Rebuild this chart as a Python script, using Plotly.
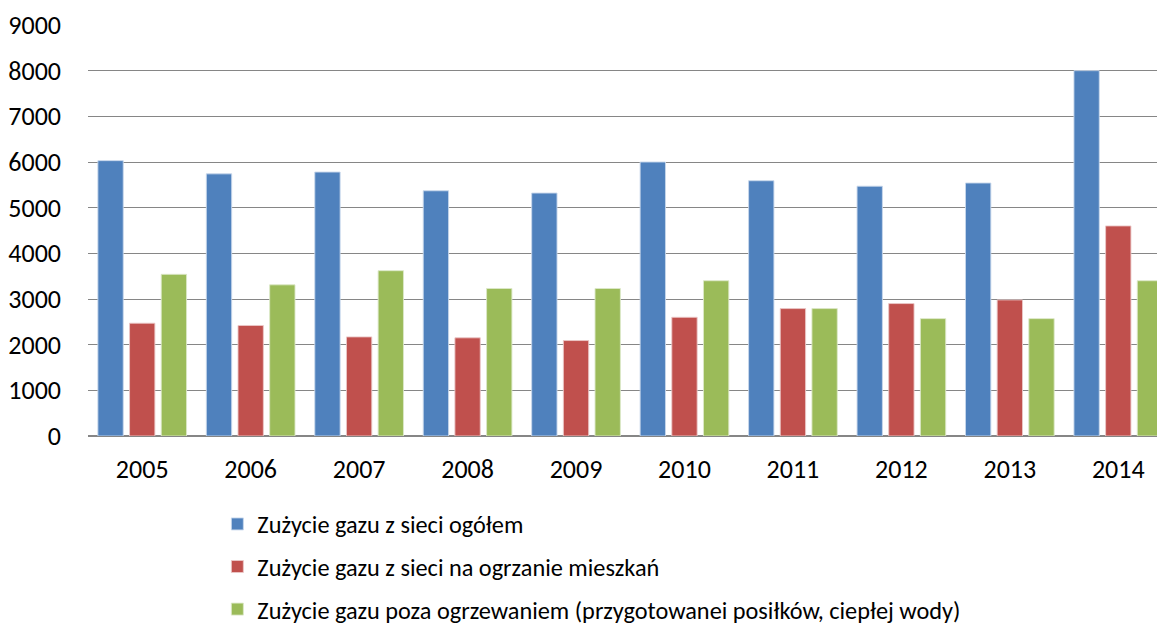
import plotly.graph_objects as go

years = ["2005", "2006", "2007", "2008", "2009", "2010", "2011", "2012", "2013", "2014"]
total = [6030, 5740, 5780, 5370, 5320, 6000, 5590, 5470, 5540, 8000]
heating = [2470, 2420, 2170, 2150, 2090, 2600, 2790, 2900, 2980, 4600]
other = [3540, 3310, 3620, 3230, 3230, 3400, 2790, 2570, 2570, 3400]

names = [
    "Zużycie gazu z sieci ogółem",
    "Zużycie gazu z sieci na ogrzanie mieszkań",
    "Zużycie gazu poza ogrzewaniem (przygotowanei posiłków, ciepłej wody)",
]
colors = ["#4F81BD", "#C0504D", "#9BBB59"]
edge = ["rgba(200,215,235,0.9)", "rgba(235,200,200,0.9)", "rgba(220,232,200,0.9)"]

FONT = "Carlito, Lato, 'Open Sans', sans-serif"

fig = go.Figure()
for i, vals in enumerate([total, heating, other]):
    fig.add_trace(go.Bar(
        x=years, y=vals, name=names[i], legendgroup=f"g{i}",
        marker=dict(color=colors[i], line=dict(color=edge[i], width=1)),
    ))

fig.update_layout(
    width=1157, height=628,
    margin=dict(l=88, r=0, t=25, b=192, pad=0, autoexpand=False),
    paper_bgcolor="white", plot_bgcolor="white",
    barmode="group", bargap=0.124, bargroupgap=0.2,
    font=dict(family=FONT, size=26, color="#000000"),
    showlegend=True,
    legend=dict(
        orientation="v", x=0.121, xanchor="left", y=-0.1597, yanchor="top",
        font=dict(family=FONT, size=24.3, color="#000000"),
        tracegroupgap=8, itemwidth=30,
        bgcolor="rgba(0,0,0,0)",
    ),
)
fig.update_xaxes(
    type="category", range=[-0.5, 9.357],
    showgrid=False, showline=False,
    ticks="", ticklabelstandoff=15, tickfont=dict(size=26),
)
fig.update_yaxes(
    range=[0, 9000], dtick=1000, tick0=0,
    showgrid=True, gridcolor="#868686", gridwidth=1.3,
    zeroline=True, zerolinecolor="#868686", zerolinewidth=1.8,
    showline=False, ticks="", ticklabelstandoff=26, tickfont=dict(size=26),
)

fig.write_html(
    "out.html",
    config={"displayModeBar": False},
    post_script="document.body.style.margin='0';document.body.style.overflow='hidden';",
)
